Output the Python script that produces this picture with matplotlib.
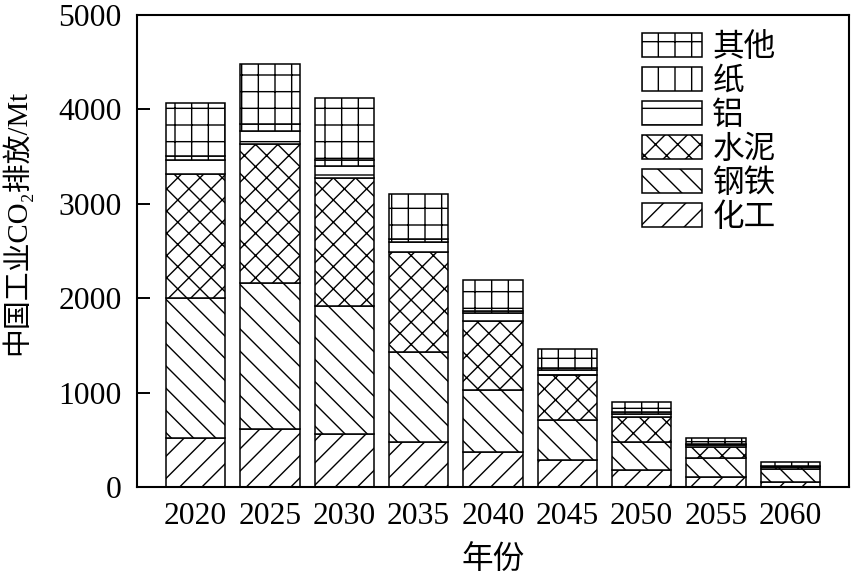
import matplotlib
matplotlib.use("Agg")
import matplotlib.pyplot as plt
import numpy as np

# data (Mt CO2)
years = ["2020", "2025", "2030", "2035", "2040", "2045", "2050", "2055", "2060"]
chemical = [520, 610, 560, 480, 370, 285, 185, 105, 50]
steel = [1480, 1555, 1360, 945, 655, 430, 293, 200, 145]
cement = [1320, 1465, 1355, 1065, 735, 470, 259, 120, 12]
aluminium = [140, 145, 130, 105, 80, 55, 32, 15, 8]
paper = [50, 70, 55, 35, 20, 25, 21, 18, 8]
other = [560, 640, 660, 475, 330, 195, 106, 62, 45]

series = [("化工", chemical, "///"),
          ("钢铁", steel, "\\\\\\"),
          ("水泥", cement, "xxx"),
          ("铝", aluminium, "--"),
          ("纸", paper, "||"),
          ("其他", other, "++")]

plt.rcParams['font.family'] = ['Liberation Serif', 'Noto Sans CJK SC', 'DejaVu Sans']
plt.rcParams['hatch.linewidth'] = 0.5
plt.rcParams['hatch.color'] = 'black'

fs = 11.4
# dpi 200 so the hatch tile (dpi px) gives the line spacing seen in the picture
fig = plt.figure(figsize=(4.32, 2.895), dpi=200)
ax = fig.add_axes([137/864, 1 - 487/579, (849 - 137)/864, (487 - 15)/579])

x = np.arange(len(years))
bottom = np.zeros(len(years))
handles = []
for name, vals, hatch in series:
    b = ax.bar(x, vals, 0.8, bottom=bottom, color='white', edgecolor='black',
               hatch=hatch, linewidth=0.55, label=name)
    bottom += np.array(vals)
    handles.append(b)

ax.set_xlim(-0.79, len(years) - 1 + 0.79)
ax.set_ylim(0, 5000)
ax.set_xticks(x)
ax.set_xticklabels(years)
ax.set_yticks([0, 1000, 2000, 3000, 4000, 5000])
ax.tick_params(axis='x', length=0, pad=5.5, labelsize=fs)
ax.tick_params(axis='y', direction='in', length=4.7, width=0.7, pad=5.5, labelsize=fs)
for s in ax.spines.values():
    s.set_linewidth(0.75)

ax.set_xlabel("年份", fontsize=fs, labelpad=5)
ax.set_ylabel("中国工业CO₂排放/Mt", fontsize=10.4)
ax.yaxis.set_label_coords(-0.148, 0.56)

leg = ax.legend(handles[::-1], [s[0] for s in series][::-1], loc='upper left',
                bbox_to_anchor=(0.709, 0.962), frameon=False, fontsize=fs,
                handlelength=1.9, handleheight=0.8, handletextpad=0.33,
                labelspacing=0.12, borderpad=0, borderaxespad=0)

fig.savefig("out.png", dpi=200)
